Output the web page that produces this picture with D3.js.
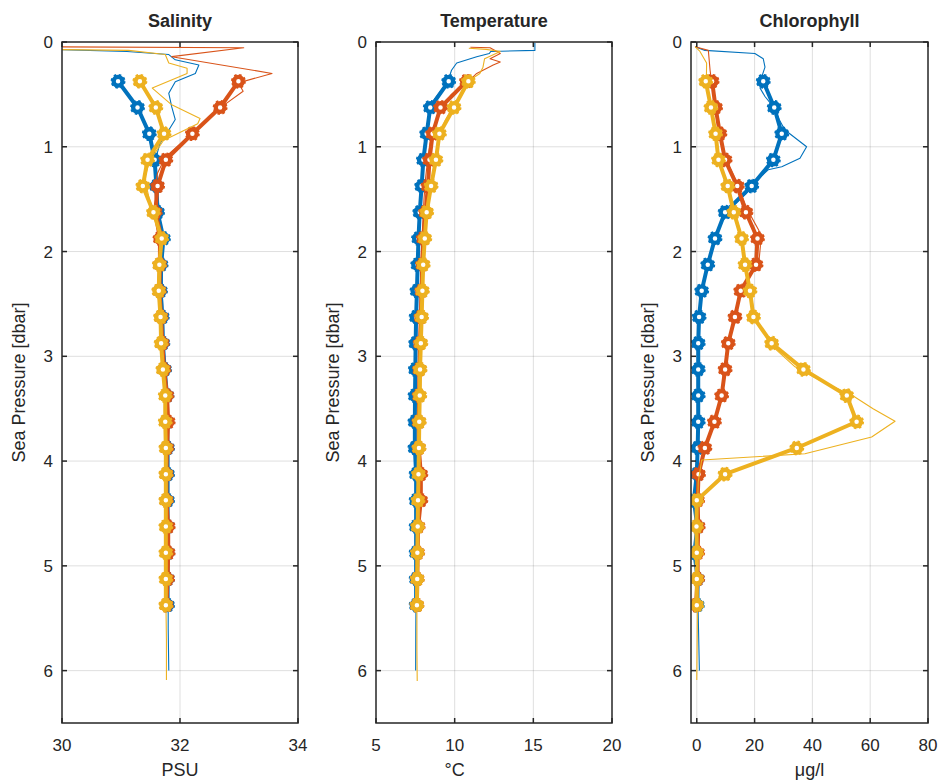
<!DOCTYPE html>
<html><head><meta charset="utf-8">
<script src="https://cdn.jsdelivr.net/npm/d3@7"></script>
<style>
body{margin:0;background:#fff}
text{font-family:"Liberation Sans",Arial,sans-serif;fill:#262626}
</style>
</head><body>
<svg id="chart" width="945" height="782"></svg>
<script>
// ---------- data ----------
const binPressure = [0.375,0.625,0.875,1.125,1.375,1.625,1.875,2.125,2.375,2.625,2.875,3.125,3.375,3.625,3.875,4.125,4.375,4.625,4.875,5.125,5.375];
const pressureTicks = [0,1,2,3,4,5,6];

const salBlue   = [30.95,31.28,31.48,31.57,31.60,31.62,31.72,31.68,31.67,31.70,31.71,31.74,31.78,31.78,31.79,31.79,31.79,31.79,31.79,31.79,31.79];
const salRed    = [32.99,32.68,32.21,31.76,31.62,31.58,31.66,31.66,31.65,31.68,31.70,31.73,31.78,31.80,31.78,31.77,31.77,31.80,31.80,31.79,31.77];
const salYellow = [31.32,31.59,31.73,31.45,31.37,31.55,31.69,31.65,31.64,31.67,31.68,31.71,31.75,31.75,31.76,31.76,31.76,31.76,31.76,31.76,31.76];

const salBlueRaw = [[0.065,29.5],[0.09,31.1],[0.12,31.81],[0.17,31.92],[0.22,32.32],[0.30,32.26],[0.38,31.92],[0.49,31.81],[0.62,31.86],[0.74,31.92],[0.85,31.80],[0.97,31.66],[1.09,31.60],[1.3,31.60],[1.5,31.63],[1.7,31.66],[1.9,31.72],[2.1,31.70],[2.4,31.70],[2.7,31.72],[3.0,31.73],[3.3,31.77],[3.6,31.78],[4.0,31.79],[4.4,31.79],[4.8,31.79],[5.2,31.80],[5.6,31.80],[6.0,31.81]];
const salRedRaw = [[0.045,29.5],[0.055,33.08],[0.14,31.86],[0.30,33.56],[0.39,32.99],[0.47,33.07],[0.6,32.75],[0.75,32.45],[0.9,32.15],[1.0,31.95],[1.1,31.75],[1.25,31.62],[1.4,31.57],[1.6,31.60],[1.8,31.68],[2.1,31.67],[2.5,31.67],[2.9,31.71],[3.3,31.77],[3.7,31.79],[4.1,31.78],[4.5,31.79],[5.0,31.80],[5.4,31.78]];
const salYellowRaw = [[0.07,29.5],[0.08,31.13],[0.12,31.75],[0.2,31.81],[0.25,32.12],[0.30,32.12],[0.44,31.53],[0.6,31.86],[0.73,32.34],[0.78,32.30],[0.94,31.72],[1.13,31.49],[1.3,31.40],[1.5,31.48],[1.7,31.60],[1.9,31.68],[2.2,31.65],[2.5,31.66],[2.8,31.68],[3.1,31.71],[3.4,31.75],[3.8,31.76],[4.3,31.76],[4.8,31.76],[5.3,31.76],[5.7,31.77],[6.09,31.77]];

const tempBlue   = [9.62,8.45,8.22,8.01,7.90,7.78,7.70,7.65,7.60,7.55,7.52,7.50,7.48,7.47,7.47,7.55,7.55,7.55,7.55,7.55,7.55];
const tempRed    = [10.75,9.10,8.60,8.40,8.30,8.15,8.00,7.95,7.90,7.85,7.80,7.76,7.74,7.72,7.72,7.85,7.85,7.68,7.65,7.62,7.60];
const tempYellow = [10.87,9.96,9.03,8.81,8.50,8.22,8.10,8.00,7.95,7.90,7.85,7.80,7.78,7.75,7.73,7.70,7.67,7.65,7.63,7.62,7.60];

const tempBlueRaw = [[0.01,15.1],[0.08,15.1],[0.09,12.3],[0.11,12.2],[0.14,11.4],[0.2,10.13],[0.27,9.8],[0.36,9.6],[0.45,9.2],[0.55,8.7],[0.65,8.4],[0.8,8.25],[0.95,8.1],[1.1,8.0],[1.3,7.9],[1.5,7.8],[1.7,7.72],[1.9,7.68],[2.2,7.62],[2.5,7.57],[2.8,7.53],[3.2,7.5],[3.6,7.48],[4.0,7.5],[4.4,7.55],[4.8,7.55],[5.2,7.55],[5.6,7.53],[6.0,7.52]];
const tempRedRaw = [[0.05,11.0],[0.055,12.25],[0.11,12.9],[0.16,12.25],[0.19,12.9],[0.22,12.45],[0.3,11.4],[0.39,10.77],[0.5,9.8],[0.62,9.2],[0.75,8.8],[0.9,8.5],[1.1,8.3],[1.3,8.15],[1.5,8.05],[1.8,7.95],[2.1,7.85],[2.5,7.8],[3.0,7.72],[3.5,7.7],[4.0,7.68],[4.5,7.68],[5.0,7.65],[5.4,7.62]];
const tempYellowRaw = [[0.06,10.9],[0.07,12.0],[0.09,12.9],[0.16,11.9],[0.24,11.8],[0.3,11.6],[0.36,11.0],[0.5,10.4],[0.62,9.9],[0.75,9.4],[0.9,9.0],[1.1,8.8],[1.3,8.55],[1.5,8.35],[1.7,8.2],[2.0,8.05],[2.3,7.97],[2.6,7.9],[3.0,7.82],[3.4,7.77],[3.8,7.73],[4.2,7.7],[4.6,7.66],[5.0,7.63],[5.4,7.6],[5.8,7.6],[6.1,7.62]];

const chlBlue   = [23.0,26.8,29.4,26.5,19.0,9.8,6.3,3.8,1.7,0.8,0.5,0.5,0.5,0.5,0.3,0.0,-1.0,0.2,-0.8,0.3,0.2];
const chlRed    = [5.3,6.5,8.0,9.8,14.0,17.0,21.0,20.5,15.2,13.2,10.9,9.8,8.6,6.1,2.8,0.6,0.3,0.5,0.3,0.3,-0.3];
const chlYellow = [3.1,4.9,6.5,7.5,10.7,12.8,15.5,16.7,18.4,19.6,25.9,36.9,51.9,55.3,34.6,9.8,0.0,-0.1,0.0,0.0,0.0];

const chlBlueRaw = [[0.045,-0.6],[0.08,2.8],[0.11,20.1],[0.16,23.0],[0.24,23.6],[0.33,22.5],[0.44,21.9],[0.52,23.6],[0.62,26.5],[0.74,28.5],[0.84,30.5],[1.0,38.0],[1.11,35.7],[1.19,29.4],[1.22,24.7],[1.3,21.5],[1.45,17.0],[1.6,11.0],[1.75,8.0],[1.9,6.0],[2.1,3.8],[2.4,1.6],[2.7,0.8],[3.0,0.5],[3.4,0.5],[3.8,0.4],[4.1,0.1],[4.4,-0.5],[4.8,0.2],[5.2,0.3],[5.6,0.6],[6.0,0.9]];
const chlRedRaw = [[0.045,-0.6],[0.08,4.0],[0.27,4.6],[0.4,5.2],[0.6,6.3],[0.85,7.8],[1.1,9.8],[1.35,14.0],[1.6,17.5],[1.8,21.5],[1.95,22.0],[2.1,21.5],[2.2,19.0],[2.35,15.5],[2.6,13.2],[2.9,10.8],[3.2,9.5],[3.4,8.4],[3.6,6.3],[3.85,3.0],[4.1,0.7],[4.4,0.3],[4.8,0.4],[5.2,0.2],[5.4,0.1]];
const chlYellowRaw = [[0.045,-0.6],[0.09,1.1],[0.2,3.4],[0.4,3.3],[0.6,4.8],[0.85,6.5],[1.1,7.6],[1.35,10.5],[1.6,12.8],[1.85,15.6],[2.1,16.8],[2.35,18.6],[2.6,19.8],[2.75,22.5],[2.9,26.0],[3.1,34.0],[3.25,44.0],[3.37,53.6],[3.5,61.0],[3.62,68.6],[3.77,60.5],[3.93,37.4],[3.99,1.7],[4.2,0.5],[4.5,0.2],[5.0,0.3],[5.5,0.2],[6.09,0.0]];

const salTicks = [30,32,34];
const tempTicks = [5,10,15,20];
const chlTicks = [0,20,40,60,80];

const colors = {blue:"#0072BD", red:"#D95319", yellow:"#EDB120"};

// ---------- drawing ----------
const svg = d3.select("#chart");
const yTop = 42, yBottom = 723;
const y = d3.scaleLinear().domain([0,6.5]).range([yTop,yBottom]);

const panels = [
  {id:"sal", title:"Salinity", xlabel:"PSU", left:62, right:298, domain:[30,34], ticks:salTicks, xlabelX:null,
   series:[{raw:salBlueRaw,thick:salBlue,c:colors.blue},{raw:salRedRaw,thick:salRed,c:colors.red},{raw:salYellowRaw,thick:salYellow,c:colors.yellow}]},
  {id:"temp", title:"Temperature", xlabel:"°C", left:376, right:612, domain:[5,20], ticks:tempTicks, xlabelX:10,
   series:[{raw:tempBlueRaw,thick:tempBlue,c:colors.blue},{raw:tempRedRaw,thick:tempRed,c:colors.red},{raw:tempYellowRaw,thick:tempYellow,c:colors.yellow}]},
  {id:"chl", title:"Chlorophyll", xlabel:"μg/l", left:691, right:928, domain:[-2,80], ticks:chlTicks, xlabelX:null,
   series:[{raw:chlBlueRaw,thick:chlBlue,c:colors.blue},{raw:chlRedRaw,thick:chlRed,c:colors.red},{raw:chlYellowRaw,thick:chlYellow,c:colors.yellow}]}
];

const defs = svg.append("defs");

panels.forEach(p => {
  const x = d3.scaleLinear().domain(p.domain).range([p.left,p.right]);
  const g = svg.append("g");
  defs.append("clipPath").attr("id","clip-"+p.id)
    .append("rect").attr("x",p.left).attr("y",yTop).attr("width",p.right-p.left).attr("height",yBottom-yTop);

  // grid
  g.append("g").selectAll("line").data(p.ticks.filter(t=>t>p.domain[0]&&t<p.domain[1])).join("line")
    .attr("x1",d=>x(d)).attr("x2",d=>x(d)).attr("y1",yTop).attr("y2",yBottom)
    .attr("stroke","#262626").attr("stroke-opacity",0.15).attr("stroke-width",1);
  g.append("g").selectAll("line").data(pressureTicks.filter(t=>t>0)).join("line")
    .attr("x1",p.left).attr("x2",p.right).attr("y1",d=>y(d)).attr("y2",d=>y(d))
    .attr("stroke","#262626").attr("stroke-opacity",0.15).attr("stroke-width",1);

  // data
  const plot = g.append("g").attr("clip-path","url(#clip-"+p.id+")");
  const rawLine = d3.line().x(d=>x(d[1])).y(d=>y(d[0]));
  const thickLine = d3.line().x(d=>x(d[1])).y(d=>y(d[0]));
  p.series.forEach(s => {
    plot.append("path").datum(s.raw).attr("d",rawLine)
      .attr("fill","none").attr("stroke",s.c).attr("stroke-width",1.1).attr("stroke-linejoin","round");
    const pts = s.thick.map((v,i)=>[binPressure[i],v]);
    plot.append("path").datum(pts).attr("d",thickLine)
      .attr("fill","none").attr("stroke",s.c).attr("stroke-width",4).attr("stroke-linejoin","round");
    const m = plot.append("g").selectAll("g").data(pts).join("g")
      .attr("transform",d=>`translate(${x(d[1])},${y(d[0])})`);
    m.append("circle").attr("r",6.5).attr("fill","none").attr("stroke",s.c)
      .attr("stroke-width",1.9).attr("stroke-dasharray","2.5 2.6");
    m.append("circle").attr("r",4.4).attr("fill","#fff").attr("stroke",s.c).attr("stroke-width",4.3);
  });

  // box
  g.append("rect").attr("x",p.left).attr("y",yTop).attr("width",p.right-p.left).attr("height",yBottom-yTop)
    .attr("fill","none").attr("stroke","#262626").attr("stroke-width",1.5);

  // ticks (inside, all four sides)
  const tl = 5;
  const tk = g.append("g").attr("stroke","#262626").attr("stroke-width",1.5);
  p.ticks.forEach(t => {
    tk.append("line").attr("x1",x(t)).attr("x2",x(t)).attr("y1",yBottom).attr("y2",yBottom-tl);
    tk.append("line").attr("x1",x(t)).attr("x2",x(t)).attr("y1",yTop).attr("y2",yTop+tl);
  });
  pressureTicks.forEach(t => {
    tk.append("line").attr("x1",p.left).attr("x2",p.left+tl).attr("y1",y(t)).attr("y2",y(t));
    tk.append("line").attr("x1",p.right).attr("x2",p.right-tl).attr("y1",y(t)).attr("y2",y(t));
  });

  // tick labels
  g.append("g").selectAll("text").data(p.ticks).join("text")
    .attr("x",d=>x(d)).attr("y",yBottom+28).attr("text-anchor","middle")
    .style("font-size","17px").text(d=>d);
  g.append("g").selectAll("text").data(pressureTicks).join("text")
    .attr("x",p.left-9).attr("y",d=>y(d)+6).attr("text-anchor","end")
    .style("font-size","17px").text(d=>d);

  // titles and labels
  g.append("text").attr("x",(p.left+p.right)/2).attr("y",27).attr("text-anchor","middle")
    .style("font-size","18px").style("font-weight","bold").text(p.title);
  g.append("text").attr("x",p.xlabelX===null?(p.left+p.right)/2:x(p.xlabelX)).attr("y",yBottom+53)
    .attr("text-anchor","middle").style("font-size","18px").text(p.xlabel);
  g.append("text").attr("transform",`translate(${p.left-37},${(yTop+yBottom)/2}) rotate(-90)`)
    .attr("text-anchor","middle").style("font-size","18px").text("Sea Pressure [dbar]");
});
</script>
</body></html>
